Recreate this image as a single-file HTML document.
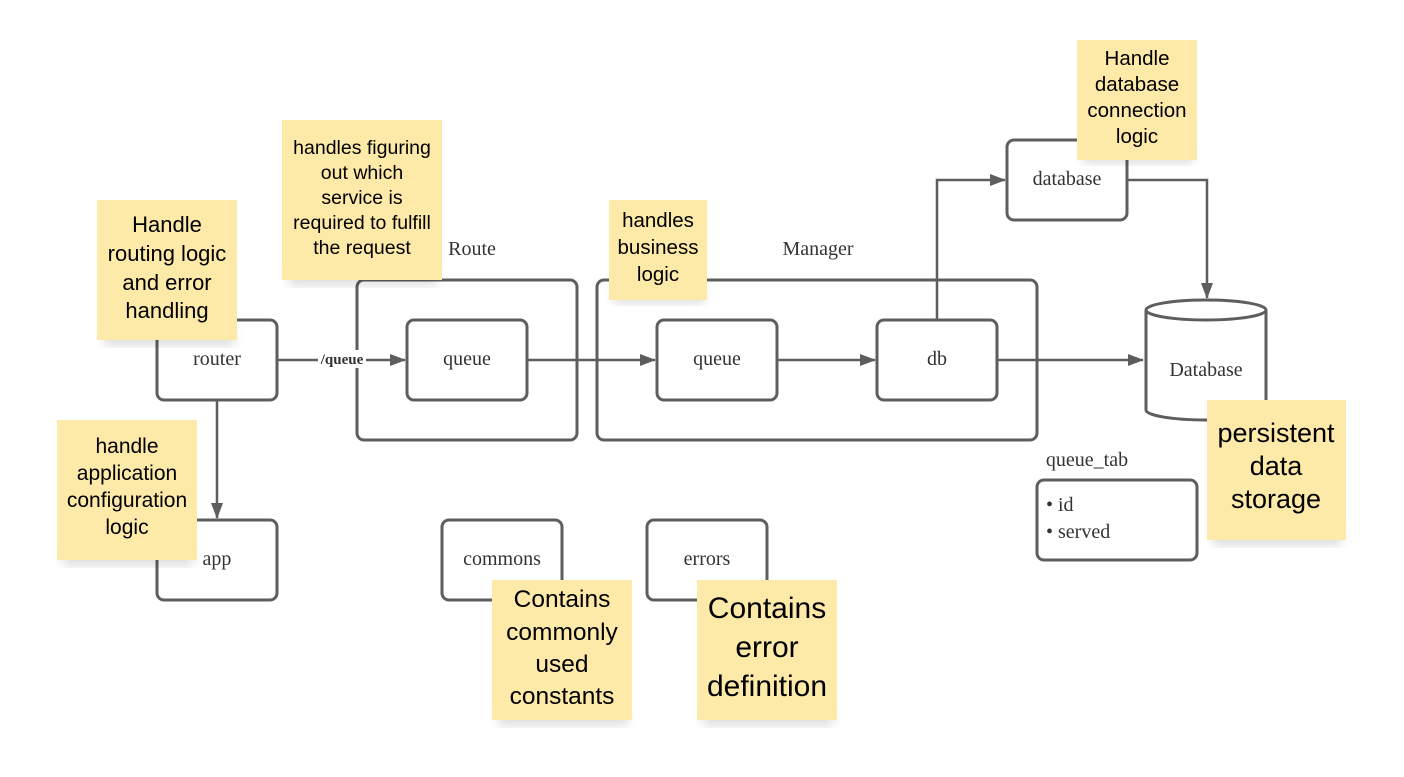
<!DOCTYPE html>
<html><head><meta charset="utf-8"><style>
html,body{margin:0;padding:0;background:#fff;}
svg{display:block;}
.b{fill:#fff;stroke:#5e5e5e;stroke-width:3;}
.l{stroke:#5e5e5e;stroke-width:2.5;fill:none;}
.t{font-family:"Liberation Serif",serif;font-size:20px;fill:#333;text-anchor:middle;}
.s{fill:#fde9a8;}
.sh{fill:#000;opacity:0.12;filter:url(#bl);}
.n{font-family:"Liberation Sans",sans-serif;fill:#000;text-anchor:middle;}
</style></head><body>
<svg width="1404" height="777" viewBox="0 0 1404 777">
<defs>
<marker id="a" markerWidth="16" markerHeight="12" refX="15" refY="6" orient="auto" markerUnits="userSpaceOnUse"><path d="M0,0 L16,6 L0,12 z" fill="#5e5e5e"/></marker>
<filter id="bl"><feGaussianBlur stdDeviation="5"/></filter>
</defs>
<rect class="b" x="357" y="280" width="220" height="160" rx="7"/>
<rect class="b" x="597" y="280" width="440" height="160" rx="7"/>
<text class="t" x="472" y="255">Route</text>
<text class="t" x="818" y="255">Manager</text>
<line class="l" x1="277" y1="360" x2="405" y2="360" marker-end="url(#a)"/>
<line class="l" x1="217" y1="400" x2="217" y2="518" marker-end="url(#a)"/>
<line class="l" x1="527" y1="360" x2="655" y2="360" marker-end="url(#a)"/>
<line class="l" x1="777" y1="360" x2="875" y2="360" marker-end="url(#a)"/>
<line class="l" x1="997" y1="360" x2="1143" y2="360" marker-end="url(#a)"/>
<polyline class="l" points="937,320 937,180 1005,180" marker-end="url(#a)"/>
<polyline class="l" points="1127,180 1207,180 1207,298" marker-end="url(#a)"/>
<rect x="318" y="350" width="48" height="18" fill="#fff"/>
<text x="342" y="364" font-family="Liberation Serif,serif" font-weight="bold" font-size="15" fill="#333" text-anchor="middle">/queue</text>
<rect class="b" x="157" y="320" width="120" height="80" rx="7"/><text class="t" x="217" y="365">router</text>
<rect class="b" x="157" y="520" width="120" height="80" rx="7"/><text class="t" x="217" y="565">app</text>
<rect class="b" x="407" y="320" width="120" height="80" rx="7"/><text class="t" x="467" y="365">queue</text>
<rect class="b" x="657" y="320" width="120" height="80" rx="7"/><text class="t" x="717" y="365">queue</text>
<rect class="b" x="877" y="320" width="120" height="80" rx="7"/><text class="t" x="937" y="365">db</text>
<rect class="b" x="1007" y="140" width="120" height="80" rx="7"/><text class="t" x="1067" y="185">database</text>
<rect class="b" x="442" y="520" width="120" height="80" rx="7"/><text class="t" x="502" y="565">commons</text>
<rect class="b" x="647" y="520" width="120" height="80" rx="7"/><text class="t" x="707" y="565">errors</text>
<path class="b" d="M1146,310 L1146,410 A60,10 0 0 0 1266,410 L1266,310"/>
<ellipse class="b" cx="1206" cy="310" rx="60" ry="10"/>
<text class="t" x="1206" y="376">Database</text>
<text class="t" x="1087" y="466">queue_tab</text>
<rect class="b" x="1037" y="480" width="160" height="80" rx="7"/>
<text class="t" x="1046" y="511" style="text-anchor:start">• id</text>
<text class="t" x="1046" y="538" style="text-anchor:start">• served</text>
<rect class="sh" x="104" y="326" width="130" height="20"/>
<rect class="s" x="97" y="200" width="140" height="140"/>
<text class="n" font-size="22"><tspan x="167" y="232">Handle</tspan><tspan x="167" y="261">routing logic</tspan><tspan x="167" y="290">and error</tspan><tspan x="167" y="318">handling</tspan></text>
<rect class="sh" x="289" y="266" width="148" height="20"/>
<rect class="s" x="282" y="120" width="160" height="160"/>
<text class="n" font-size="19.5"><tspan x="362" y="154">handles figuring</tspan><tspan x="362" y="179">out which</tspan><tspan x="362" y="204">service is</tspan><tspan x="362" y="229">required to fulfill</tspan><tspan x="362" y="254">the request</tspan></text>
<rect class="sh" x="614" y="288" width="90" height="16"/>
<rect class="s" x="609" y="200" width="98" height="100"/>
<text class="n" font-size="20.5"><tspan x="658" y="227">handles</tspan><tspan x="658" y="254">business</tspan><tspan x="658" y="281">logic</tspan></text>
<rect class="sh" x="1083" y="146" width="110" height="18"/>
<rect class="s" x="1077" y="40" width="120" height="120"/>
<text class="n" font-size="20.5"><tspan x="1137" y="65">Handle</tspan><tspan x="1137" y="91">database</tspan><tspan x="1137" y="117">connection</tspan><tspan x="1137" y="143">logic</tspan></text>
<rect class="sh" x="63" y="546" width="130" height="20"/>
<rect class="s" x="57" y="420" width="140" height="140"/>
<text class="n" font-size="21"><tspan x="127" y="453">handle</tspan><tspan x="127" y="480">application</tspan><tspan x="127" y="507">configuration</tspan><tspan x="127" y="534">logic</tspan></text>
<rect class="sh" x="1213" y="526" width="128" height="20"/>
<rect class="s" x="1207" y="400" width="139" height="140"/>
<text class="n" font-size="27"><tspan x="1276" y="442">persistent</tspan><tspan x="1276" y="475">data</tspan><tspan x="1276" y="508">storage</tspan></text>
<rect class="sh" x="498" y="706" width="130" height="20"/>
<rect class="s" x="492" y="580" width="140" height="140"/>
<text class="n" font-size="24.5"><tspan x="562" y="607">Contains</tspan><tspan x="562" y="640">commonly</tspan><tspan x="562" y="672">used</tspan><tspan x="562" y="704">constants</tspan></text>
<rect class="sh" x="703" y="706" width="130" height="20"/>
<rect class="s" x="697" y="580" width="140" height="140"/>
<text class="n" font-size="30"><tspan x="767" y="618">Contains</tspan><tspan x="767" y="657">error</tspan><tspan x="767" y="696">definition</tspan></text>
</svg>
</body></html>
